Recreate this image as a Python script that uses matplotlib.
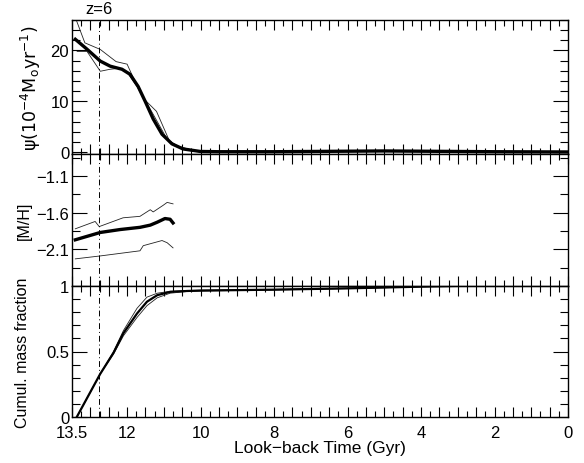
import numpy as np
import matplotlib
matplotlib.use("Agg")
import matplotlib.pyplot as plt
from matplotlib.ticker import MultipleLocator, FixedLocator, FuncFormatter

plt.rcParams['font.family'] = ['Liberation Sans', 'DejaVu Sans']
plt.rcParams['font.size'] = 12
plt.rcParams['axes.linewidth'] = 1.0
plt.rcParams['axes.unicode_minus'] = True

# --- star formation rate (top panel) ---
t_sfr = [13.41, 13.1, 12.73, 12.46, 12.14, 11.92, 11.70, 11.51, 11.29, 11.05, 10.78, 10.48, 10.01, 9.5, 8.0, 6.0, 5.0, 4.0, 2.0, 0.0]
sfr_mean = [22.2, 20.3, 17.9, 16.9, 16.3, 15.3, 12.9, 10.0, 6.5, 3.5, 1.6, 0.6, 0.1, 0.05, 0.05, 0.15, 0.2, 0.15, 0.05, 0.0]
t_sfr_hi = [13.41, 13.15, 12.73, 12.3, 12.0, 11.85, 11.55, 11.2, 10.85, 10.6, 10.2, 9.5, 0.0]
sfr_hi = [26.5, 21.5, 20.2, 17.8, 17.3, 14.9, 10.5, 8.0, 2.2, 1.0, 0.3, 0.1, 0.05]
t_sfr_lo = [13.36, 13.09, 12.73, 12.46, 12.19, 12.0, 11.73, 11.32, 10.91, 10.64, 10.2, 9.5, 0.0]
sfr_lo = [19.8, 19.8, 15.9, 16.3, 16.5, 15.7, 12.9, 7.8, 2.5, 1.2, 0.3, 0.1, 0.05]

# --- metallicity (middle panel) ---
t_mh = [13.41, 12.73, 12.19, 11.65, 11.37, 11.18, 10.97, 10.83, 10.75]
mh_mean = [-1.97, -1.87, -1.83, -1.80, -1.77, -1.73, -1.68, -1.69, -1.74]
t_mh_hi = [13.41, 12.87, 12.76, 12.11, 11.65, 11.37, 11.29, 11.02, 10.91, 10.75]
mh_hi = [-1.82, -1.72, -1.79, -1.67, -1.65, -1.56, -1.59, -1.50, -1.46, -1.48]
t_mh_lo = [13.41, 12.73, 11.65, 11.56, 11.05, 10.91, 10.75]
mh_lo = [-2.23, -2.19, -2.12, -2.05, -1.98, -2.01, -2.08]

# --- cumulative mass fraction (bottom panel) ---
t_cum = [13.37, 12.73, 12.37, 12.10, 11.73, 11.46, 11.18, 10.83, 10.37, 10.0, 8.0, 6.0, 4.0, 3.0, 0.0]
cum_mean = [0.0, 0.33, 0.49, 0.64, 0.79, 0.88, 0.93, 0.955, 0.962, 0.965, 0.972, 0.982, 0.995, 1.0, 1.0]
cum_hi = [0.0, 0.33, 0.50, 0.66, 0.83, 0.915, 0.945, 0.96, 0.965, 0.968, 0.974, 0.984, 0.996, 1.0, 1.0]
cum_lo = [0.0, 0.33, 0.48, 0.62, 0.76, 0.85, 0.91, 0.945, 0.958, 0.962, 0.970, 0.980, 0.994, 1.0, 1.0]

t_z6 = 12.76
x_labels = [13.5, 12, 10, 8, 6, 4, 2, 0]

W, H = 584, 464
fig = plt.figure(figsize=(W / 100, H / 100), dpi=100)

def box(top, bot):
    return [72 / W, 1 - bot / H, 496 / W, (bot - top) / H]

ax1 = fig.add_axes(box(21, 155))
ax2 = fig.add_axes(box(155, 287))
ax3 = fig.add_axes(box(287, 418))

thin = dict(color="#222222", lw=0.6)
thick = dict(color="black", lw=2.4)

ax1.plot(t_sfr_hi, sfr_hi, **thin)
ax1.plot(t_sfr_lo, sfr_lo, **thin)
ax1.plot(t_sfr, sfr_mean, **thick)
ax1.set_ylim(-0.4, 26)
ax1.yaxis.set_major_locator(FixedLocator([0, 10, 20]))
ax1.yaxis.set_minor_locator(MultipleLocator(2))
ax1.set_ylabel(r"$\mathrm{\psi(10^{-4}M_o yr^{-1})}$", fontsize=12.5)
ax1.yaxis.set_label_coords(-0.058, 0.5)

ax2.plot(t_mh_hi, mh_hi, **thin)
ax2.plot(t_mh_lo, mh_lo, **thin)
ax2.plot(t_mh, mh_mean, **thick)
ax2.set_ylim(-2.6, -0.8)
ax2.yaxis.set_major_locator(FixedLocator([-2.1, -1.6, -1.1]))
ax2.yaxis.set_minor_locator(FixedLocator([-2.35, -1.85, -1.35, -0.85]))
ax2.yaxis.set_major_formatter(FuncFormatter(lambda v, p: f"{v:.1f}".replace("-", "\u2212")))
ax2.set_ylabel("[M/H]", fontsize=11.5)
ax2.yaxis.set_label_coords(-0.08, 0.5)

ax3.plot(t_cum, cum_hi, **thin)
ax3.plot(t_cum, cum_lo, **thin)
ax3.plot(t_cum, cum_mean, color="black", lw=1.6)
ax3.set_ylim(0, 1.0)
ax3.yaxis.set_major_locator(FixedLocator([0, 0.5, 1]))
ax3.yaxis.set_minor_locator(MultipleLocator(0.1))
ax3.yaxis.set_major_formatter(FuncFormatter(lambda v, p: f"{v:g}"))
ax3.set_ylabel("Cumul. mass fraction", fontsize=11.5)
ax3.yaxis.set_label_coords(-0.085, 0.5)
ax3.set_xlabel("Look\u2212back Time (Gyr)", fontsize=12.5)
ax3.xaxis.set_label_coords(0.5, -0.175)

for ax in (ax1, ax2, ax3):
    ax.set_xlim(13.5, 0)
    ax.axvline(t_z6, color="black", lw=0.7, ls=(0, (6, 3, 1, 3)))
    ax.xaxis.set_major_locator(MultipleLocator(0.5))
    ax.xaxis.set_minor_locator(MultipleLocator(0.25))
    ax.tick_params(axis="both", which="both", direction="in", top=True, right=True,
                   width=0.8)
    ax.tick_params(axis="x", which="major", length=7.5, pad=6)
    ax.tick_params(axis="x", which="minor", length=4)
    ax.tick_params(axis="y", which="major", length=11, pad=2)
    ax.tick_params(axis="y", which="minor", length=5.5)
    if ax is ax3:
        ax.xaxis.set_major_formatter(FuncFormatter(
            lambda v, p: (f"{v:g}" if any(abs(v - l) < 1e-6 for l in x_labels) else "")))
    else:
        ax.tick_params(axis="x", labelbottom=False)

ax1.text(t_z6, 1.03, "z=6", transform=ax1.get_xaxis_transform(), ha="center", va="bottom")

fig.savefig("out.png", dpi=100)
